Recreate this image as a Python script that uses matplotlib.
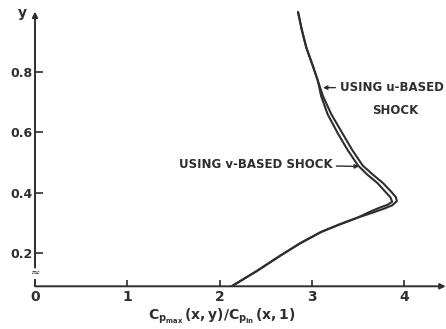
import matplotlib
matplotlib.use('Agg')
import matplotlib.pyplot as plt

# curve: u-based shock (outer) and v-based shock (inner)
u_x = [2.13, 2.40, 2.65, 2.87, 3.10, 3.30, 3.50, 3.65, 3.78, 3.87, 3.92, 3.91, 3.86, 3.77,
       3.66, 3.55, 3.44, 3.33, 3.21, 3.12, 3.065, 3.01, 2.94, 2.89, 2.85]
u_y = [0.09, 0.14, 0.19, 0.232, 0.27, 0.295, 0.318, 0.333, 0.347, 0.358, 0.372, 0.385, 0.403, 0.432,
       0.46, 0.49, 0.54, 0.597, 0.66, 0.72, 0.77, 0.82, 0.88, 0.94, 0.998]
v_x = [2.13, 2.40, 2.65, 2.87, 3.10, 3.30, 3.50, 3.63, 3.73, 3.82, 3.87, 3.85, 3.79, 3.71,
       3.60, 3.50, 3.39, 3.28, 3.17, 3.10, 3.065, 3.01, 2.94, 2.89, 2.85]
v_y = [0.09, 0.14, 0.19, 0.232, 0.27, 0.295, 0.318, 0.337, 0.350, 0.360, 0.370, 0.385, 0.405, 0.432,
       0.46, 0.49, 0.54, 0.597, 0.66, 0.72, 0.77, 0.82, 0.88, 0.94, 0.998]

x_ticks = [0, 1, 2, 3, 4]
y_ticks = [0.2, 0.4, 0.6, 0.8]
y_tick_labels = ['0.2', '0.4', '0.6', '0.8']

INK = '#2e2e2e'
Y0 = 0.09

fig = plt.figure(figsize=(4.46, 3.29), dpi=100)
ax = fig.add_axes([35 / 446, 0.1298, 92.3 * 4.5 / 446, 0.8535])
ax.set_xlim(0, 4.5)
ax.set_ylim(Y0, 1.02)
for s in ax.spines.values():
    s.set_visible(False)

ax.plot(u_x, u_y, color=INK, lw=1.5, solid_capstyle='round', solid_joinstyle='round')
ax.plot(v_x, v_y, color=INK, lw=1.5, solid_capstyle='round', solid_joinstyle='round')

# hand-drawn style axes with arrow heads
ax.annotate('', xy=(4.45, Y0), xytext=(0, Y0), annotation_clip=False,
            arrowprops=dict(arrowstyle='-|>', lw=1.4, color=INK, mutation_scale=8,
                            shrinkA=0, shrinkB=0))
ax.annotate('', xy=(0, 1.0), xytext=(0, 0.152), annotation_clip=False,
            arrowprops=dict(arrowstyle='-|>', lw=1.4, color=INK, mutation_scale=8,
                            shrinkA=0, shrinkB=0))
ax.plot([0, 0], [Y0, 0.112], color=INK, lw=1.4, clip_on=False)
ax.text(0, 0.133, '\u2248', ha='center', va='center', fontsize=8, color=INK, clip_on=False)
ax.text(-0.14, 0.995, 'y', ha='center', va='center', fontsize=10, fontweight='bold', color=INK)

ax.set_xticks(x_ticks)
ax.set_xticklabels([str(t) for t in x_ticks], fontweight='bold')
ax.set_yticks(y_ticks)
ax.set_yticklabels(y_tick_labels, fontweight='bold')
ax.tick_params(axis='x', direction='in', length=4, width=1.2, color=INK, pad=3,
               labelsize=10, labelcolor=INK)
ax.tick_params(axis='y', direction='in', length=5.5, width=1.2, color=INK, pad=2,
               labelsize=9, labelcolor=INK)
ax.xaxis.get_major_ticks()[0].tick1line.set_visible(False)

# annotations
ax.annotate('USING u-BASED', xy=(3.12, 0.748), xytext=(3.30, 0.748), ha='left', va='center',
            fontsize=8.5, fontweight='bold', color=INK, annotation_clip=False,
            arrowprops=dict(arrowstyle='-|>', lw=1.0, color=INK, mutation_scale=6,
                            shrinkA=1, shrinkB=0))
ax.text(3.90, 0.672, 'SHOCK', ha='center', va='center', fontsize=8.5, fontweight='bold', color=INK)
ax.annotate('USING v-BASED SHOCK', xy=(3.51, 0.487), xytext=(3.22, 0.493), ha='right', va='center',
            fontsize=8.5, fontweight='bold', color=INK,
            arrowprops=dict(arrowstyle='-|>', lw=1.0, color=INK, mutation_scale=6,
                            shrinkA=1, shrinkB=0))

fig.text(222 / 446, 13 / 329, r'$\mathbf{C_{p_{max}}\,(x,y)/C_{p_{in}}\,(x,1)}$',
         ha='center', va='center', fontsize=10, color=INK)

fig.savefig('out.png', dpi=100)
